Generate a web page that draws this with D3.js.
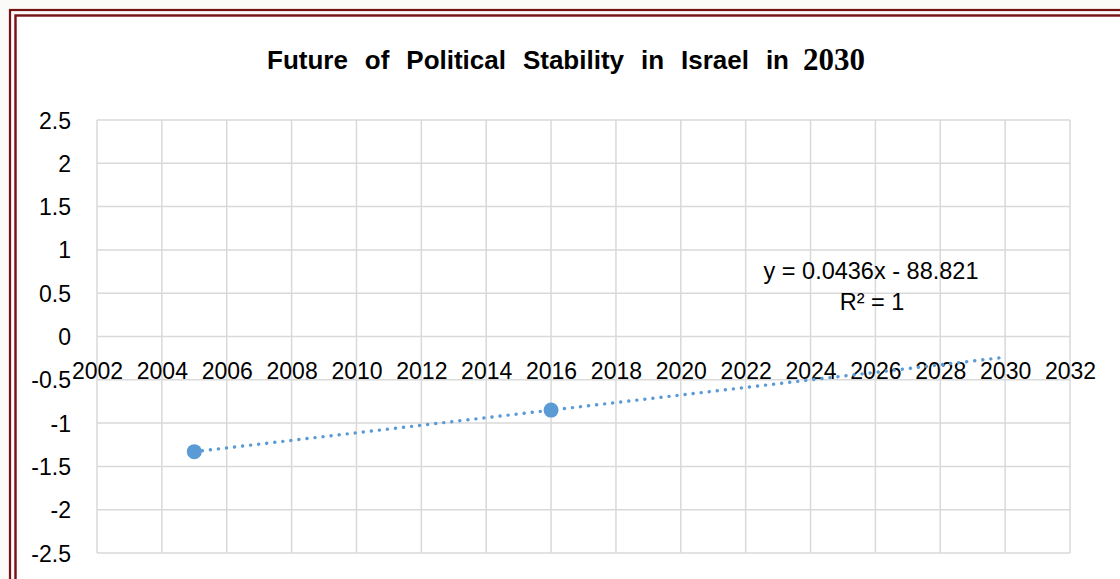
<!DOCTYPE html>
<meta charset="utf-8">
<script src="https://cdn.jsdelivr.net/npm/d3@7"></script>
<style>
body { margin: 0; background: #fbfaf8; }
svg { display: block; }
.grid line { stroke: #d9d9d9; stroke-width: 1.5; }
.tick text { font-family: "Liberation Sans", Arial, sans-serif; font-size: 23px; fill: #000; }
</style>
<body>
<div class="chart"></div>
<script>

// data
var years = [2005, 2016];
var values = [-1.33, -0.85];
var forecastTo = 2030;
var xTicks = d3.range(2002, 2033, 2);
var yTicks = [2.5, 2, 1.5, 1, 0.5, 0, -0.5, -1, -1.5, -2, -2.5];
var equationText = "y = 0.0436x - 88.821";
var r2Text = "R² = 1";
var titleText = "Future of Political Stability in Israel in";
var titleYear = "2030";

var W = 1120, H = 579;
var plot = {left: 97, right: 1070, top: 120, bottom: 553};

var svg = d3.select(".chart").append("svg")
    .attr("width", W)
    .attr("height", H);

// frame (double dark red border)
svg.append("rect").attr("x", 15).attr("y", 15).attr("width", 1300).attr("height", 800)
  .attr("fill", "#fff");
svg.append("rect").attr("x", 10).attr("y", 10).attr("width", 1300).attr("height", 800)
  .attr("fill", "none").attr("stroke", "#761214").attr("stroke-width", 2.2);
svg.append("rect").attr("x", 15.5).attr("y", 15.5).attr("width", 1300).attr("height", 800)
  .attr("fill", "none").attr("stroke", "#761214").attr("stroke-width", 2.4);

var x = d3.scaleLinear().domain([2002, 2032]).range([plot.left, plot.right]);
var y = d3.scaleLinear().domain([-2.5, 2.5]).range([plot.bottom, plot.top]);

// gridlines
svg.append("g").attr("class", "grid")
  .selectAll("line").data(xTicks).enter().append("line")
    .attr("x1", d => x(d)).attr("x2", d => x(d))
    .attr("y1", plot.top).attr("y2", plot.bottom);
svg.append("g").attr("class", "grid")
  .selectAll("line").data(yTicks).enter().append("line")
    .attr("x1", plot.left).attr("x2", plot.right)
    .attr("y1", d => y(d)).attr("y2", d => y(d));

// y axis labels
svg.append("g")
    .attr("transform", "translate(" + (plot.left - 26) + ",0)")
    .call(d3.axisLeft(y).tickValues(yTicks).tickSize(0).tickPadding(0).tickFormat(d => String(d)))
    .call(g => g.select(".domain").remove())
    .selectAll("text").attr("dy", "0.35em");

// x axis labels (axis crosses at y = 0, labels hang below)
svg.append("g")
    .attr("transform", "translate(0," + (y(0) + 26) + ")")
    .call(d3.axisBottom(x).tickValues(xTicks).tickSize(0).tickPadding(0).tickFormat(d => String(d)))
    .call(g => g.select(".domain").remove())
    .selectAll("text").attr("dy", "0.71em");

// linear trendline fitted to the data, extended forward
var mx = d3.mean(years), my = d3.mean(values);
var slope = d3.sum(years.map((v, i) => (v - mx) * (values[i] - my))) /
            d3.sum(years.map(v => (v - mx) * (v - mx)));
var icpt = my - slope * mx;
var trendX = [years[0], forecastTo];

svg.append("path")
    .datum(trendX)
    .attr("fill", "none")
    .attr("stroke", "#5b9bd5")
    .attr("stroke-width", 3.4)
    .attr("stroke-linecap", "round")
    .attr("stroke-dasharray", "0.1 8")
    .attr("d", d3.line().x(d => x(d)).y(d => y(icpt + slope * d)));

// markers
svg.selectAll("circle.pt").data(years).enter().append("circle")
    .attr("cx", d => x(d))
    .attr("cy", (d, i) => y(values[i]))
    .attr("r", 7.5)
    .attr("fill", "#5b9bd5");

// equation label
svg.append("text")
    .attr("x", 871).attr("y", 279)
    .attr("text-anchor", "middle")
    .attr("font-family", "Liberation Sans, Arial, sans-serif")
    .attr("font-size", 23.5)
    .text(equationText);
svg.append("text")
    .attr("x", 872).attr("y", 310)
    .attr("text-anchor", "middle")
    .attr("font-family", "Liberation Sans, Arial, sans-serif")
    .attr("font-size", 23.5)
    .text(r2Text);

// title: sans part stretched by word spacing to meet the serif year
var t1 = svg.append("text")
    .attr("x", 267).attr("y", 69)
    .attr("font-weight", "bold")
    .attr("font-family", "Liberation Sans, Arial, sans-serif")
    .attr("font-size", 26)
    .text(titleText);
var w = t1.node().getComputedTextLength();
var gaps = titleText.split(" ").length - 1;
t1.attr("word-spacing", Math.max(0, (789 - 267 - w) / gaps));

svg.append("text")
    .attr("x", 803).attr("y", 70)
    .attr("font-weight", "bold")
    .attr("font-family", "Liberation Serif, Times New Roman, serif")
    .attr("font-size", 31)
    .text(titleYear);

</script>
</body>
</html>
